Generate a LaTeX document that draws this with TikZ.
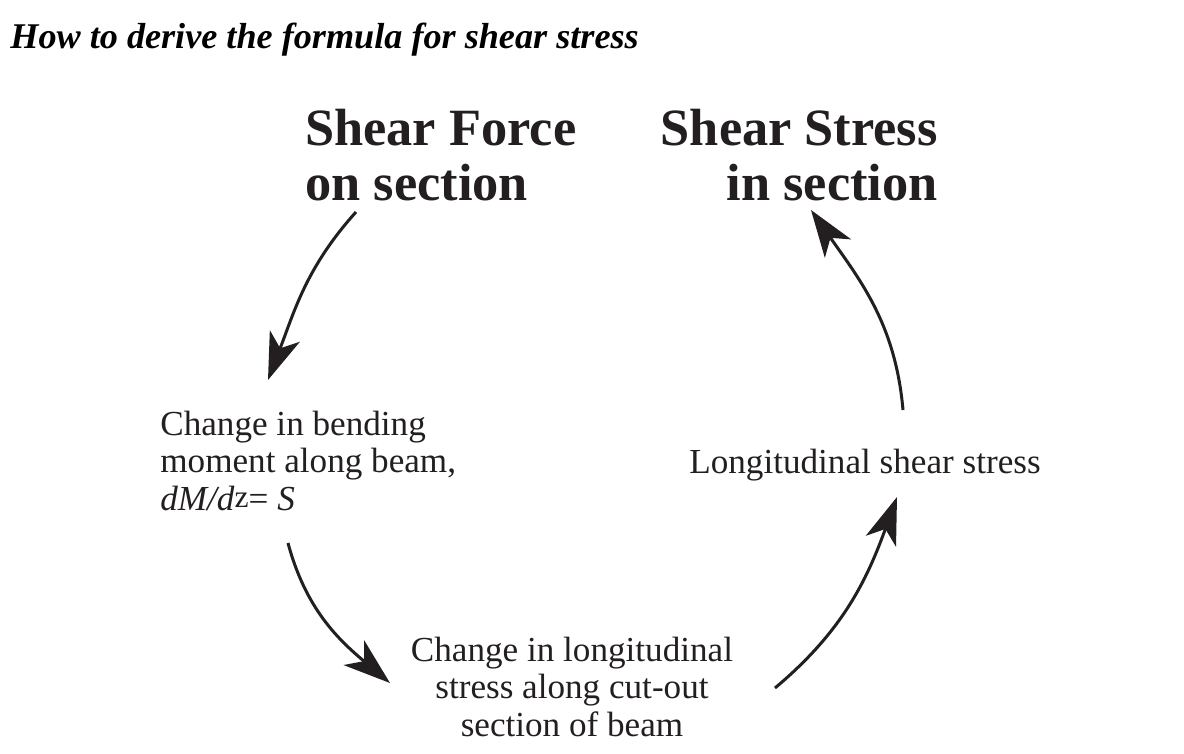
\documentclass[tikz,border=0pt]{standalone}
\usepackage{fontspec}
\setmainfont{Liberation Serif}
\usetikzlibrary{arrows.meta,calc}
\definecolor{ink}{HTML}{231F20}

\begin{document}
\begin{tikzpicture}[x=0.02cm, y=0.02cm,
  heading/.style={inner sep=0, font=\fontsize{20.6}{24}\selectfont\bfseries\itshape},
  big/.style={inner sep=0, text=ink, font=\fontsize{29.8}{31.2}\selectfont\bfseries},
  txt/.style={inner sep=0, text=ink, font=\fontsize{20}{21.2}\selectfont},
  arrow/.style={draw=ink, line width=0.06cm, -{Stealth[length=0.94cm, width=0.64cm, inset=0.26cm]}}
]
\fill[white] (0,0) rectangle (1184,-754);
\useasboundingbox (0,0) rectangle (1184,-754);

\node[heading, anchor=base west] (title) at (10,-48) {How to derive the formula for shear stress};

\node[big, align=left, anchor=base west] (force) at (305,-200) {Shear Force\\on section};
\node[big, align=right, anchor=base east] (stress) at (938,-200) {Shear Stress\\in section};
\node[txt, align=left, anchor=base west] (bending) at (160,-510)
  {Change in bending\\moment along beam,\\\textit{dM/d}\raisebox{1.5pt}{\fontsize{18}{18}\selectfont z}= \textit{S}};
\node[txt, align=center, anchor=base] (cutout) at (572,-736)
  {Change in longitudinal\\stress along cut-out\\section of beam};
\node[txt, anchor=base west] (shear) at (689,-473) {Longitudinal shear stress};

\draw[arrow] ($(force.base west)+(51,-12)$) to[out=-132, in=69] ($(bending.base west)+(108,130)$);
\draw[arrow] ($(bending.base west)+(128,-33)$) to[out=-75, in=140] ($(cutout.base)+(-182,53)$);
\draw[arrow] ($(cutout.base)+(203,48)$) to[out=40, in=-110] ($(shear.base west)+(208,-24)$);
\draw[arrow] ($(shear.base west)+(214,63)$) to[out=95, in=-55] ($(stress.base east)+(-127,-10)$);
\end{tikzpicture}
\end{document}
